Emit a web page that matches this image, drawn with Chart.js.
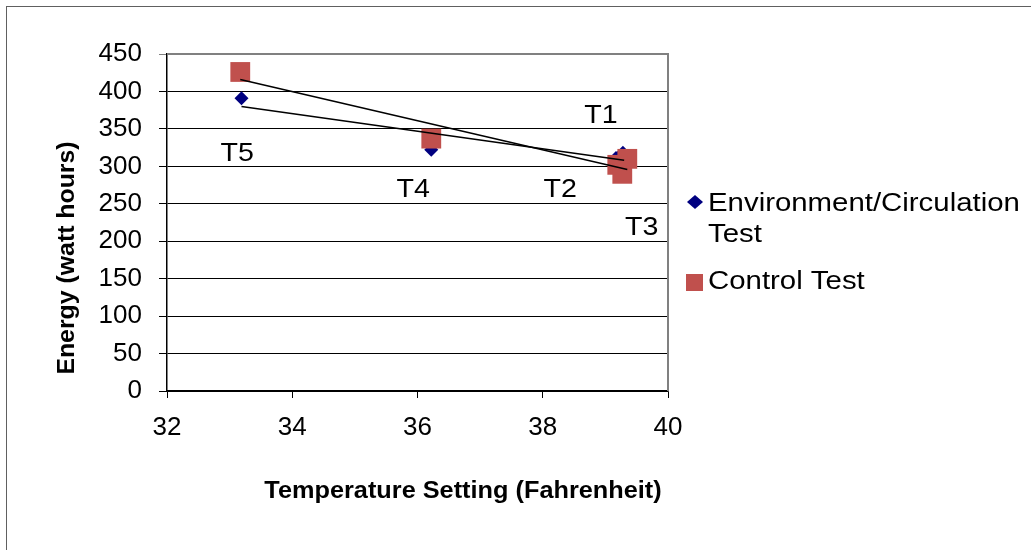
<!DOCTYPE html>
<html>
<head>
<meta charset="utf-8">
<script src="https://cdn.jsdelivr.net/npm/chart.js@4/dist/chart.umd.min.js"></script>
<style>
  body { margin: 0; background: #fff; }
</style>
</head>
<body>
<canvas id="energyChart" width="1031" height="550"></canvas>
<script>
    // --- DATA ---
    const seriesNames = ['Environment/Circulation Test', 'Control Test'];
    const envTemp = [39.28, 39.17, 39.30, 36.22, 33.19];
    const envEnergy = [318, 311, 308, 322, 391];
    const ctrlTemp = [39.35, 39.19, 39.27, 36.22, 33.17];
    const ctrlEnergy = [310, 302, 290, 337, 426];
    const yTicks = [0, 50, 100, 150, 200, 250, 300, 350, 400, 450];
    const xTicks = [32, 34, 36, 38, 40];
    const pointNames = ['T1', 'T2', 'T3', 'T4', 'T5'];
    const pointNameX = [38.93, 38.28, 39.58, 35.93, 33.12];
    const pointNameY = [367, 268, 218, 268, 317];

    const NAVY = '#000080';
    const BRICK = '#C0504D';
    const FONT = '"Liberation Sans", Arial, sans-serif';

    // least squares line, like Excel's linear trendline
    function trend(xs, ys) {
        const n = xs.length;
        const mx = xs.reduce((a, b) => a + b, 0) / n;
        const my = ys.reduce((a, b) => a + b, 0) / n;
        let sxy = 0, sxx = 0;
        xs.forEach((x, i) => { sxy += (x - mx) * (ys[i] - my); sxx += (x - mx) * (x - mx); });
        const slope = sxy / sxx;
        const lo = Math.min(...xs), hi = Math.max(...xs);
        return [{ x: lo, y: my + slope * (lo - mx) }, { x: hi, y: my + slope * (hi - mx) }];
    }

    const toPoints = (xs, ys) => xs.map((x, i) => ({ x: x, y: ys[i] }));

    // text is slightly stretched sideways in the original
    function stretchText(ctx, text, x, y, font, align, sx, rot) {
        ctx.save();
        ctx.translate(x, y);
        if (rot) ctx.rotate(rot);
        ctx.scale(sx, 1);
        ctx.font = font;
        ctx.fillStyle = '#000';
        ctx.textAlign = align;
        ctx.textBaseline = 'middle';
        ctx.fillText(text, 0, 0);
        ctx.restore();
    }

    // --- FRAME, TITLES, LABELS, LEGEND ---
    const decorations = {
        id: 'decorations',
        beforeDraw(chart) {
            const ctx = chart.ctx;
            ctx.save();
            ctx.strokeStyle = '#606060';
            ctx.lineWidth = 1;
            ctx.strokeRect(6.5, 6.5, 1100, 600);
            ctx.restore();
        },
        beforeDatasetsDraw(chart) {
            const a = chart.chartArea, ctx = chart.ctx;
            ctx.save();
            ctx.strokeStyle = '#808080';
            ctx.lineWidth = 2;
            ctx.beginPath();
            ctx.moveTo(a.left, a.top);
            ctx.lineTo(a.right, a.top);
            ctx.lineTo(a.right, a.bottom);
            ctx.stroke();
            ctx.restore();
        },
        afterDraw(chart) {
            const ctx = chart.ctx;
            const xs = chart.scales.x, ys = chart.scales.y;

            pointNames.forEach((t, i) => {
                stretchText(ctx, t, xs.getPixelForValue(pointNameX[i]), ys.getPixelForValue(pointNameY[i]),
                    '26px ' + FONT, 'center', 1.1);
            });

            stretchText(ctx, 'Temperature Setting (Fahrenheit)', 463, 492, 'bold 23px ' + FONT, 'center', 1.1);
            stretchText(ctx, 'Energy (watt hours)', 68, 258, 'bold 23px ' + FONT, 'center', 1.08, -Math.PI / 2);

            // legend
            ctx.save();
            ctx.fillStyle = NAVY;
            ctx.beginPath();
            ctx.moveTo(695, 195); ctx.lineTo(703, 202); ctx.lineTo(695, 209); ctx.lineTo(687, 202);
            ctx.closePath();
            ctx.fill();
            ctx.fillStyle = BRICK;
            ctx.fillRect(686, 274, 17, 17);
            ctx.restore();
            stretchText(ctx, 'Environment/Circulation', 708, 204, '26px ' + FONT, 'left', 1.13);
            stretchText(ctx, 'Test', 708, 235, '26px ' + FONT, 'left', 1.13);
            stretchText(ctx, seriesNames[1], 708, 282, '26px ' + FONT, 'left', 1.13);
        }
    };

    const ctx = document.getElementById('energyChart').getContext('2d');
    const energyChart = new Chart(ctx, {
        type: 'scatter',
        data: {
            datasets: [
                {
                    label: 'Env trend',
                    data: trend(envTemp, envEnergy),
                    type: 'line',
                    showLine: true,
                    borderColor: '#000',
                    borderWidth: 1.5,
                    pointRadius: 0,
                    order: 0
                },
                {
                    label: 'Control trend',
                    data: trend(ctrlTemp, ctrlEnergy),
                    type: 'line',
                    showLine: true,
                    borderColor: '#000',
                    borderWidth: 1.5,
                    pointRadius: 0,
                    order: 0
                },
                {
                    label: seriesNames[1],
                    data: toPoints(ctrlTemp, ctrlEnergy),
                    pointStyle: 'rect',
                    pointRadius: 14,
                    backgroundColor: BRICK,
                    borderWidth: 0,
                    order: 1
                },
                {
                    label: seriesNames[0],
                    data: toPoints(envTemp, envEnergy),
                    pointStyle: 'rectRot',
                    pointRadius: 7,
                    backgroundColor: NAVY,
                    borderWidth: 0,
                    order: 2
                }
            ]
        },
        options: {
            responsive: false,
            animation: false,
            layout: { padding: { top: 54, right: 363, left: 0, bottom: 0 } },
            scales: {
                x: {
                    type: 'linear',
                    min: 32,
                    max: 40,
                    afterFit: s => { s.height = 159; },
                    afterBuildTicks: s => { s.ticks = xTicks.map(v => ({ value: v })); },
                    grid: { drawOnChartArea: false, drawTicks: true, tickLength: 7, color: '#000' },
                    border: { color: '#000', width: 1.5 },
                    ticks: { color: '#000', font: { family: FONT, size: 26 }, padding: 14, maxRotation: 0 }
                },
                y: {
                    type: 'linear',
                    min: 0,
                    max: 450,
                    afterFit: s => { s.width = 167; },
                    afterBuildTicks: s => { s.ticks = yTicks.map(v => ({ value: v })); },
                    grid: {
                        color: c => (c.tick && c.tick.value === 450) ? '#808080' : '#000',
                        lineWidth: 1,
                        tickLength: 8
                    },
                    border: { color: '#000', width: 1.5 },
                    ticks: { color: '#000', font: { family: FONT, size: 26 }, padding: 17 }
                }
            },
            plugins: { legend: { display: false }, tooltip: { enabled: false } }
        },
        plugins: [decorations]
    });
</script>
</body>
</html>
